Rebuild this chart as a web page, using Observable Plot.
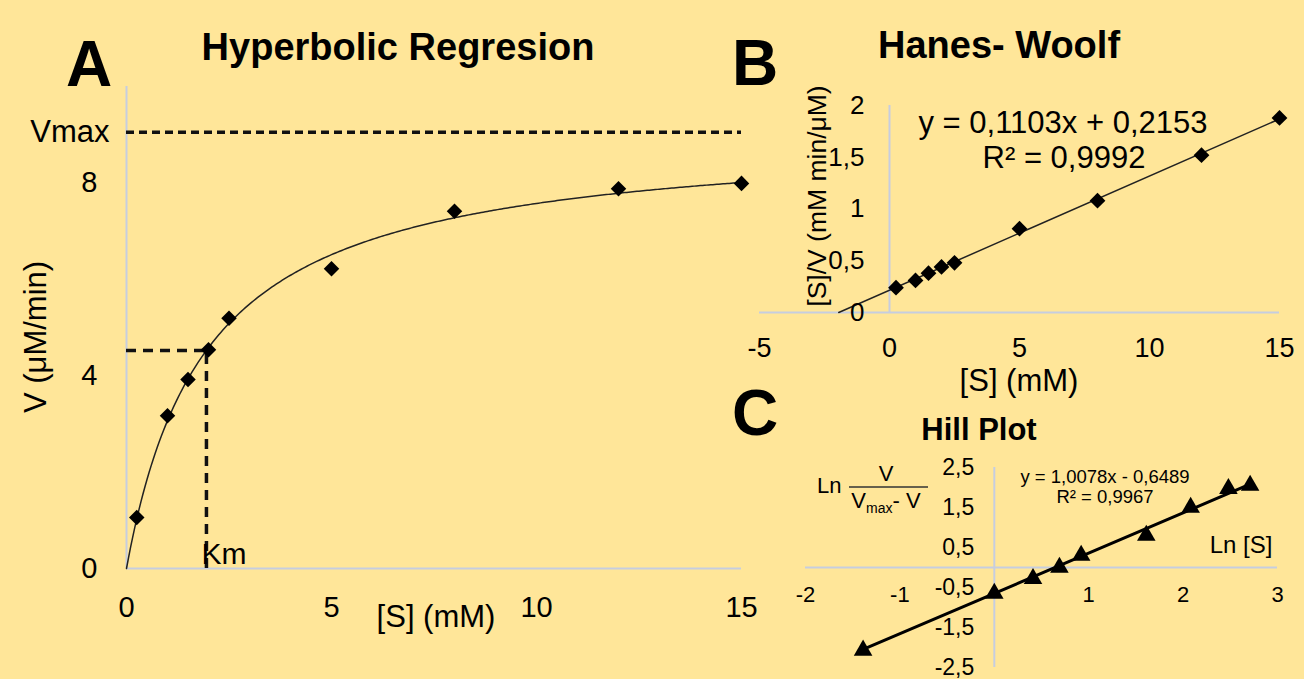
<!DOCTYPE html>
<html><head><meta charset="utf-8">
<script src="https://cdn.jsdelivr.net/npm/d3@7"></script>
<script src="https://cdn.jsdelivr.net/npm/@observablehq/plot@0.6"></script>
<style>
html,body{margin:0;padding:0;background:#FFE699;}
#wrap{position:relative;width:1304px;height:679px;overflow:hidden;background:#FFE699;font-family:"Liberation Sans",Arial,sans-serif;}
#wrap > svg{position:absolute;}
</style></head><body><div id="wrap"></div>
<script>
// ---- data ----
const S = [0.25, 1, 1.5, 2, 2.5, 5, 8, 12, 15];
const V = [1.06, 3.17, 3.92, 4.54, 5.19, 6.22, 7.41, 7.88, 7.99];
const vmax = 9.05, km = 1.95;
const SV = [0.24, 0.31, 0.38, 0.44, 0.48, 0.81, 1.08, 1.52, 1.88];
const hwSlope = 0.1103, hwIntercept = 0.2153;
const lnS = [-1.39, 0, 0.41, 0.69, 0.92, 1.61, 2.08, 2.48, 2.71];
const lnRatio = [-2.07, -0.65, -0.28, 0.0, 0.3, 0.8, 1.5, 1.97, 2.05];
const hillSlope = 1.0078, hillIntercept = -0.6489;
const aTicksX = [0, 5, 10, 15], aTicksY = [0, 4, 8];
const bTicksX = [-5, 0, 5, 10, 15], bTicksY = [0, 0.5, 1, 1.5, 2];
const cTicksX = [-2, -1, 1, 2, 3], cTicksY = [-2.5, -1.5, -0.5, 0.5, 1.5, 2.5];

const FONT = '"Liberation Sans", Arial, sans-serif';
const AX = "#c6cde0";
const fmt = d => String(d).replace(".", ",");
const diamond = {draw(ctx, size){ const r = Math.sqrt(size/2); ctx.moveTo(0,-r); ctx.lineTo(r,0); ctx.lineTo(0,r); ctx.lineTo(-r,0); ctx.closePath(); }};
const baseStyle = {background:"transparent", fontFamily: FONT, color:"#000", overflow:"visible"};
const wrap = document.getElementById("wrap");
function place(svg, left, top){ svg.style.left = left+"px"; svg.style.top = top+"px"; svg.style.maxWidth="none"; wrap.appendChild(svg); }

// ---- A: hyperbolic ----
const ptsA = S.map((s,i)=>({s, v:V[i]}));
const curve = d3.range(0, 15.0001, 0.05).map(s => ({s, v: vmax*s/(km+s)}));
const dashV = {stroke:"#111", strokeWidth:3.5, strokeDasharray:"8,5"};
const dashK = {stroke:"#111", strokeWidth:3.5, strokeDasharray:"10,7"};
const plotA = Plot.plot({
  width:770, height:660, marginLeft:126, marginRight:29, marginTop:86, marginBottom:92,
  x:{domain:[0,15], axis:null}, y:{domain:[0,10], axis:null},
  style: baseStyle,
  marks:[
    Plot.ruleY([0], {x1:0, x2:15, stroke:AX, strokeWidth:2}),
    Plot.ruleX([0], {y1:0, y2:10, stroke:AX, strokeWidth:2}),
    Plot.ruleY([vmax], {x1:0, x2:15, ...dashV}),
    Plot.ruleY([vmax/2], {x1:0, x2:km, ...dashK}),
    Plot.ruleX([km], {y1:0, y2:vmax/2, ...dashK}),
    Plot.line(curve, {x:"s", y:"v", stroke:"#222", strokeWidth:1.5}),
    Plot.dot(ptsA, {x:"s", y:"v", symbol:diamond, r:6.2, fill:"#000", stroke:"none"}),
    Plot.text(aTicksY, {x:0, y:d=>d, text:fmt, textAnchor:"end", dx:-29, fontSize:29}),
    Plot.text(aTicksX, {x:d=>d, y:0, text:fmt, dy:39, fontSize:29}),
    Plot.text(["Vmax"], {x:0, y:vmax, text:d=>d, textAnchor:"end", dx:-17, fontSize:31}),
    Plot.text(["Km"], {x:km, y:0, text:d=>d, textAnchor:"start", dx:-5, dy:-14, fontSize:30})
  ]
});
place(plotA, 0, 0);

// ---- B: Hanes-Woolf ----
const ptsB = S.map((s,i)=>({s, r:SV[i]}));
const hwLine = [-hwIntercept/hwSlope, 15].map(x => ({x, y: hwSlope*x + hwIntercept}));
const plotB = Plot.plot({
  width:604, height:400, marginLeft:59, marginRight:25, marginTop:105, marginBottom:88,
  x:{domain:[-5,15], axis:null}, y:{domain:[0,2], axis:null},
  style: baseStyle,
  marks:[
    Plot.ruleY([0], {x1:-5, x2:15, stroke:AX, strokeWidth:2}),
    Plot.ruleX([0], {y1:0, y2:2, stroke:AX, strokeWidth:2}),
    Plot.line(hwLine, {x:"x", y:"y", stroke:"#222", strokeWidth:1.5}),
    Plot.dot(ptsB, {x:"s", y:"r", symbol:diamond, r:6.3, fill:"#000", stroke:"none"}),
    Plot.text(bTicksY, {x:0, y:d=>d, text:fmt, textAnchor:"end", dx:-25, fontSize:26}),
    Plot.text(bTicksX, {x:d=>d, y:0, text:fmt, dy:36, fontSize:27})
  ]
});
place(plotB, 700, 0);

// ---- C: Hill ----
const ptsC = lnS.map((x,i)=>({x, y:lnRatio[i]}));
const hillLine = d3.extent(lnS).map(x => ({x, y: hillSlope*x + hillIntercept}));
const plotC = Plot.plot({
  width:544, height:299, marginLeft:45, marginRight:27, marginTop:87, marginBottom:12,
  x:{domain:[-2,3], axis:null}, y:{domain:[-2.5,2.5], axis:null},
  style: baseStyle,
  marks:[
    Plot.ruleY([0], {x1:-2, x2:3, stroke:AX, strokeWidth:2}),
    Plot.ruleX([0], {y1:-2.5, y2:2.5, stroke:AX, strokeWidth:2}),
    Plot.line(hillLine, {x:"x", y:"y", stroke:"#000", strokeWidth:3}),
    Plot.dot(ptsC, {x:"x", y:"y", symbol:"triangle", r:6.9, fill:"#000", stroke:"none"}),
    Plot.text(cTicksY, {x:0, y:d=>d, text:fmt, textAnchor:"end", dx:-20, fontSize:23}),
    Plot.text(cTicksX, {x:d=>d, y:0, text:fmt, dy:27, fontSize:22})
  ]
});
place(plotC, 760, 380);

// ---- overlay text ----
const ov = d3.select(wrap).append("svg").attr("width",1304).attr("height",679)
  .style("left","0px").style("top","0px").style("font-family",FONT).style("pointer-events","none");
function t(txt, x, y, o={}){
  const e = ov.append("text").attr("x",x).attr("y",y).text(txt)
    .attr("font-size", o.size||30).attr("font-weight", o.bold?"bold":"normal")
    .attr("text-anchor", o.anchor||"middle").attr("fill","#000");
  if (o.central) e.attr("dominant-baseline","central");
  if (o.rot) e.attr("transform",`rotate(-90 ${x} ${y})`);
  return e;
}
t("A", 89, 86, {size:64, bold:true});
t("Hyperbolic Regresion", 398, 60, {size:38, bold:true});
t("V (μM/min)", 35, 337, {size:31, rot:true, central:true});
t("[S] (mM)", 436, 616, {size:31, central:true});
t("B", 755, 85, {size:64, bold:true});
t("Hanes- Woolf", 999, 58, {size:38, bold:true});
t("[S]/V (mM min/μM)", 817, 196, {size:26.5, rot:true, central:true});
t("y = 0,1103x + 0,2153", 1063, 133, {size:31});
t("R² = 0,9992", 1064, 168, {size:31});
t("[S] (mM)", 1019, 380, {size:31, central:true});
t("C", 755, 435, {size:64, bold:true});
t("Hill Plot", 979, 440, {size:31, bold:true});
t("y = 1,0078x - 0,6489", 1105, 483, {size:18.5});
t("R² = 0,9967", 1105, 503, {size:18.5});
t("Ln [S]", 1241, 553, {size:24});
t("Ln", 817, 493, {size:22, anchor:"start"});
t("V", 886, 481, {size:22});
ov.append("line").attr("x1",849).attr("x2",928).attr("y1",487).attr("y2",487).attr("stroke","#333").attr("stroke-width",1.5);
const den = ov.append("text").attr("x",886).attr("y",508).attr("font-size",22).attr("text-anchor","middle");
den.append("tspan").text("V");
den.append("tspan").text("max").attr("font-size",14).attr("dy",5);
den.append("tspan").text("- V").attr("dy",-5);
</script></body></html>
